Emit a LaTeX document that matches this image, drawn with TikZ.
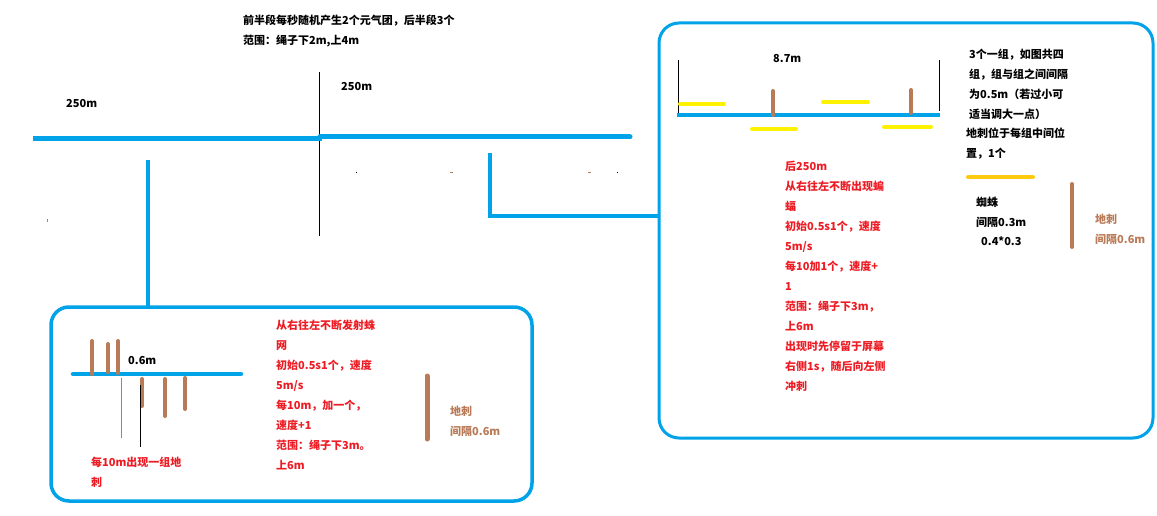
\documentclass[tikz,border=0pt]{standalone}
\usepackage{fontspec}
\setmainfont{Noto Sans CJK SC}
\usetikzlibrary{calc}
\definecolor{pblue}{RGB}{0,162,232}
\definecolor{pred}{RGB}{237,28,36}
\definecolor{pbrown}{RGB}{185,122,87}
\definecolor{pyellow}{RGB}{255,242,0}
\definecolor{pgold}{RGB}{255,201,14}
\tikzset{
  rope/.style={line width=5pt, color=pblue},
  wire/.style={line width=3.5pt, color=pblue},
  panel/.style={line width=3.5pt, color=pblue, rounded corners=18pt},
  spike/.style={line width=4pt, color=pbrown, line cap=round},
  bar/.style={line width=4pt, color=pyellow, line cap=round},
  note/.style={inner sep=0pt, anchor=north west, align=left, font=\fontsize{11}{20}\selectfont\bfseries},
}

\begin{document}
\begin{tikzpicture}[x=1pt, y=-1pt]
		%%%%% START %%%%%
		\useasboundingbox (0, 0) rectangle (1157, 516);

		% top remarks
		\node[note] (intro) at (243, 15) {前半段每秒随机产生2个元气团，后半段3个\\范围：绳子下2m,上4m};
		\draw[line width=1pt] (319, 72) -- (319, 236);
		\node[note, anchor=west] (lenA) at (66, 104) {250m};
		\node[note, anchor=west] (lenB) at (341, 87) {250m};

		% the rope
		\draw[rope] (33, 138.5) -- (322, 138.5);
		\draw[rope, line cap=round] (320, 137) -- (630, 137);

		% stray dots
		\fill (355.5, 172.5) rectangle (356.5, 173.5);
		\fill[pbrown] (449.5, 172.5) rectangle (452.5, 173.5);
		\fill[pbrown] (587.5, 172.5) rectangle (590.5, 173.5);
		\fill (616.5, 172.5) rectangle (617.5, 173.5);
		\fill[pbrown] (46.5, 219) rectangle (47.5, 222);

		% links to the two panels
		\coordinate (linkA) at (148, 160);
		\coordinate (linkAend) at (148, 307);
		\coordinate (linkB) at (490, 153);
		\coordinate (linkBend) at (660, 216);
		\draw[wire] (linkA) -- (linkAend);
		\draw[wire] (linkB) |- (linkBend);

		%%%%% left panel %%%%%
		\draw[panel] (51, 307) rectangle (532, 501);
		\draw[line width=4.5pt, color=pblue, line cap=round] (73, 374) -- (241, 374);
		\draw[spike] (92, 341) -- (92, 374);
		\draw[spike] (108, 344) -- (108, 372);
		\draw[spike] (118, 341) -- (118, 373);
		\draw[spike] (142, 379) -- (142, 406);
		\draw[spike] (165, 379) -- (165, 416);
		\draw[spike] (185, 378) -- (185, 409);
		\draw[line width=1pt, color=pbrown] (121, 378) -- (121, 438);
		\draw[line width=1pt] (140, 385) -- (140, 447);
		\node[note, anchor=west] (gapA) at (128, 361) {0.6m};
		\node[note, text=pred] (spikeNote) at (91, 457) {每10m出现一组地\\刺};
		\node[note, text=pred] (webNote) at (276, 320) {从右往左不断发射蛛\\网\\初始0.5s1个，速度\\5m/s\\每10m，加一个，\\速度+1\\范围：绳子下3m。\\上6m};
		\draw[line width=5pt, color=pbrown, line cap=round] (427, 376) -- (427, 439);
		\node[note, text=pbrown] (spikeKeyA) at (450, 406) {地刺\\间隔0.6m};

		%%%%% right panel %%%%%
		\draw[panel, line width=3pt, rounded corners=20pt] (659, 23) rectangle (1153, 438);
		\draw[line width=1pt] (678, 60) -- (678, 117);
		\draw[line width=1pt] (939, 60) -- (939, 111);
		\draw[line width=4.5pt, color=pblue] (677, 115) -- (940, 115);
		\node[note, anchor=west] (span) at (773, 59) {8.7m};
		\draw[bar] (680, 104) -- (724, 104);
		\draw[bar] (752, 129) -- (796, 129);
		\draw[bar] (823, 102) -- (868, 102);
		\draw[bar] (884, 127) -- (931, 127);
		\draw[spike] (773, 91) -- (773, 115);
		\draw[spike] (911, 90) -- (911, 113);
		\node[note] (groupNote) at (969, 49) {3个一组，如图共四\\组，组与组之间间隔\\为0.5m（若过小可\\适当调大一点）};
		\node[note] (midNote) at (966, 128) {地刺位于每组中间位\\置，1个};
		\node[note, text=pred] (batNote) at (785, 161) {后250m\\从右往左不断出现蝙\\蝠\\初始0.5s1个，速度\\5m/s\\每10加1个，速度+\\1\\范围：绳子下3m，\\上6m\\出现时先停留于屏幕\\右侧1s，随后向左侧\\冲刺};
		\draw[line width=4pt, color=pgold, line cap=round] (968, 177) -- (1033, 177);
		\node[note] (spider) at (976, 197) {蜘蛛\\间隔0.3m};
		\node[note, anchor=west] (spiderSize) at (981, 241) {0.4*0.3};
		\draw[line width=4pt, color=pbrown, line cap=round] (1072, 184) -- (1072, 247);
		\node[note, text=pbrown] (spikeKeyB) at (1095, 214) {地刺\\间隔0.6m};

		%%%%% END %%%%%
\end{tikzpicture}
\end{document}
